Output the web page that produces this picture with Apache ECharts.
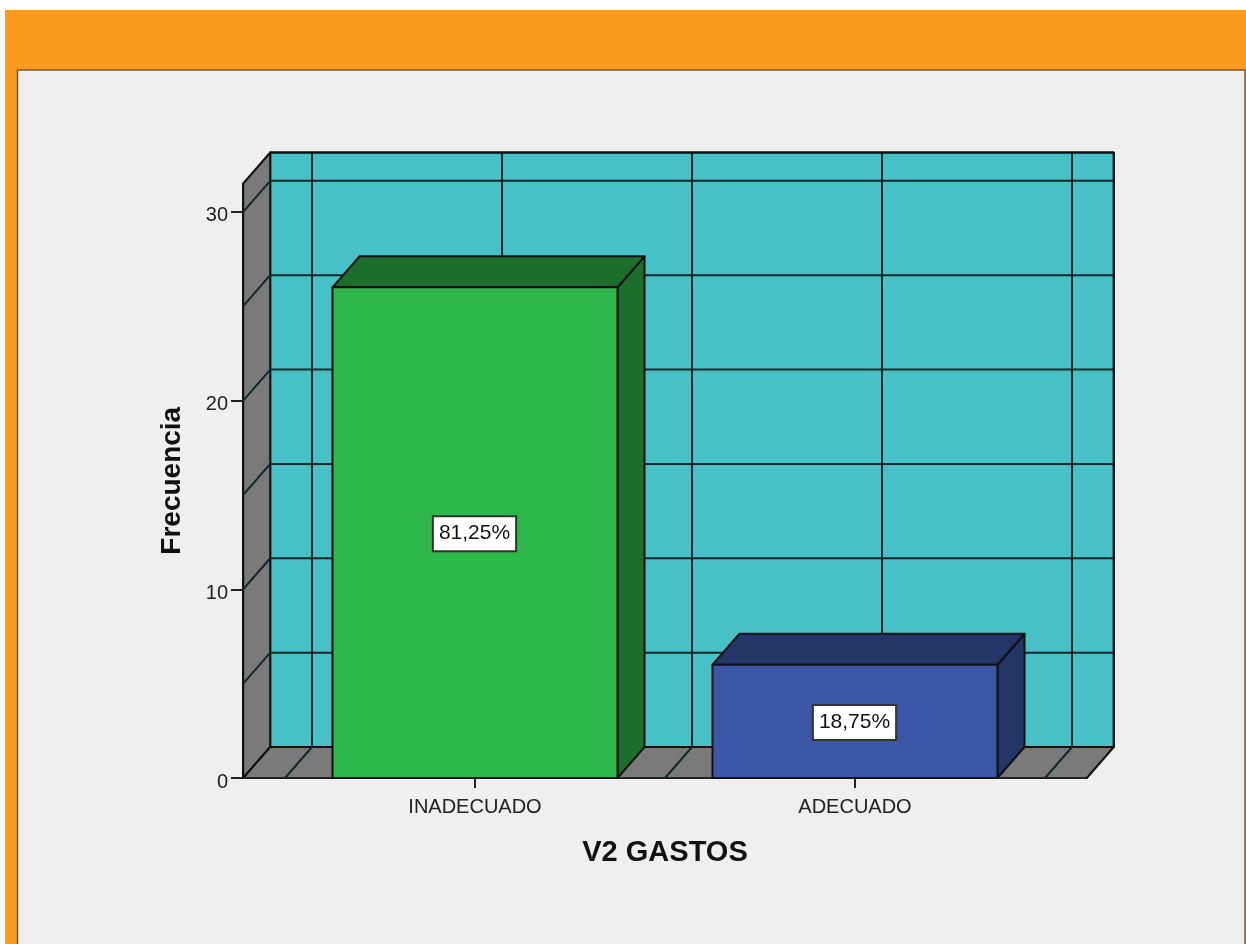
<!DOCTYPE html>
<html>
<head>
<meta charset="utf-8">
<style>html,body{margin:0;padding:0;background:#fff}#c{width:1246px;height:944px}</style>
<script src="https://cdn.jsdelivr.net/npm/echarts@6/dist/echarts.min.js"></script>
</head>
<body>
<div id="c"></div>
<script>
const categories = ['INADECUADO', 'ADECUADO'];
const frequencies = [26, 6];
const percentLabels = ['81,25%', '18,75%'];
const yTicks = [0, 10, 20, 30];
const wallGridValues = [0, 5, 10, 15, 20, 25, 30];
const yTop = 31.5;
const xName = 'V2 GASTOS';
const yName = 'Frecuencia';

const FONT = '"Liberation Sans", Arial, sans-serif';
const DX = 27, DY = -31;
const LINE = '#12282b';
const poly = (pts, fill, stroke, z2) => ({
  type: 'polygon', z2: z2 || 0,
  shape: { points: pts },
  style: { fill: fill, stroke: stroke || '#111', lineWidth: 2, lineJoin: 'round' }
});
const seg = (a, b, col, w) => ({
  type: 'line',
  shape: { x1: a[0], y1: a[1], x2: b[0], y2: b[1] },
  style: { stroke: col || LINE, lineWidth: w || 2 }
});

function renderWalls(params, api) {
  const c0 = api.coord([0, 0]);
  const band = api.size([1, 0])[0];
  const L = c0[0] - band * 0.61, R = c0[0] + band * 1.61;
  const y0 = c0[1], yT = api.coord([0, yTop])[1];
  const kids = [];
  kids.push(poly([[L + DX, y0 + DY], [R + DX, y0 + DY], [R + DX, yT + DY], [L + DX, yT + DY]], '#47c1c6', '#111'));
  kids.push(poly([[L, y0], [L + DX, y0 + DY], [L + DX, yT + DY], [L, yT]], '#7a7a7a', '#111'));
  kids.push(poly([[L, y0], [R, y0], [R + DX, y0 + DY], [L + DX, y0 + DY]], '#7a7a7a', '#111'));
  wallGridValues.forEach(v => {
    const y = api.coord([0, v])[1];
    if (v > 0) {
      kids.push(seg([L, y], [L + DX, y + DY]));
      kids.push(seg([L + DX, y + DY], [R + DX, y + DY]));
    }
  });
  for (let i = 0; i <= categories.length * 2; i++) {
    const x = c0[0] + band * (i - 1) / 2;
    kids.push(seg([x, y0], [x + DX, y0 + DY]));
    kids.push(seg([x + DX, y0 + DY], [x + DX, yT + DY]));
  }
  kids.push(seg([L + DX, yT + DY], [R + DX, yT + DY], '#111'));
  kids.push(seg([R + DX, yT + DY], [R + DX, y0 + DY], '#111'));
  kids.push(seg([L, y0], [R, y0], '#222'));
  return { type: 'group', children: kids };
}

const faceColors = [
  { front: '#2eb84a', dark: '#1b6e2c' },
  { front: '#3c56a8', dark: '#243568' }
];
function renderBar(params, api) {
  const i = api.value(0), v = api.value(1);
  const c = api.coord([i, 0]), t = api.coord([i, v]);
  const hw = api.size([1, 0])[0] * 0.375;
  const x1 = c[0] - hw, x2 = c[0] + hw, yb = c[1], yt = t[1];
  const col = faceColors[i];
  return {
    type: 'group',
    children: [
      poly([[x2, yb], [x2 + DX, yb + DY], [x2 + DX, yt + DY], [x2, yt]], col.dark),
      poly([[x1, yt], [x2, yt], [x2 + DX, yt + DY], [x1 + DX, yt + DY]], col.dark),
      poly([[x1, yb], [x2, yb], [x2, yt], [x1, yt]], col.front),
      {
        type: 'text', z2: 10,
        style: {
          x: c[0] - 0.5, y: (yb + yt) / 2 + 1, text: percentLabels[i],
          align: 'center', verticalAlign: 'middle',
          font: '21px ' + FONT, fill: '#111',
          backgroundColor: '#fff', borderColor: '#333', borderWidth: 2,
          padding: [7, 5, 5, 5]
        }
      }
    ]
  };
}

const chart = echarts.init(document.getElementById('c'), null, { renderer: 'canvas' });
chart.setOption({
  animation: false,
  backgroundColor: '#ffffff',
  graphic: [
    { type: 'rect', z: -10, shape: { x: 5, y: 10, width: 1241, height: 934 }, style: { fill: '#fb9a1e' } },
    { type: 'rect', z: -9, shape: { x: 17.5, y: 70, width: 1227.5, height: 880 }, style: { fill: '#efefef', stroke: '#6e5c46', lineWidth: 1.5 } }
  ],
  grid: { left: 285, width: 760, top: 183.5, bottom: 166, containLabel: false },
  xAxis: {
    type: 'category', data: categories,
    name: xName, nameLocation: 'middle', nameGap: 60,
    nameTextStyle: { fontFamily: FONT, fontWeight: 'bold', fontSize: 29, color: '#111' },
    axisLine: { show: false },
    axisTick: { show: true, alignWithLabel: true, length: 10, lineStyle: { color: '#222', width: 2 } },
    axisLabel: { fontFamily: FONT, fontSize: 20, color: '#222', margin: 19 }
  },
  yAxis: {
    type: 'value', min: 0, max: yTop, offset: 42,
    name: yName, nameLocation: 'middle', nameGap: 57,
    nameTextStyle: { fontFamily: FONT, fontWeight: 'bold', fontSize: 28, color: '#111' },
    splitLine: { show: false },
    axisLine: { show: true, lineStyle: { color: '#222', width: 2 } },
    axisTick: { show: true, length: 12, customValues: yTicks, lineStyle: { color: '#222', width: 2 } },
    axisLabel: {
      color: '#222', margin: 15, customValues: yTicks,
      formatter: '{t|{value}}',
      rich: { t: { fontFamily: FONT, fontSize: 20, color: '#222', padding: [8, 0, 0, 0] } }
    }
  },
  series: [
    { type: 'custom', z: 1, renderItem: renderWalls, data: [[0, 0]], silent: true, clip: false },
    { type: 'custom', z: 2, renderItem: renderBar, clip: false, silent: true,
      encode: { x: 0, y: 1 },
      data: frequencies.map((v, i) => [i, v]) }
  ]
});
</script>
</body>
</html>
